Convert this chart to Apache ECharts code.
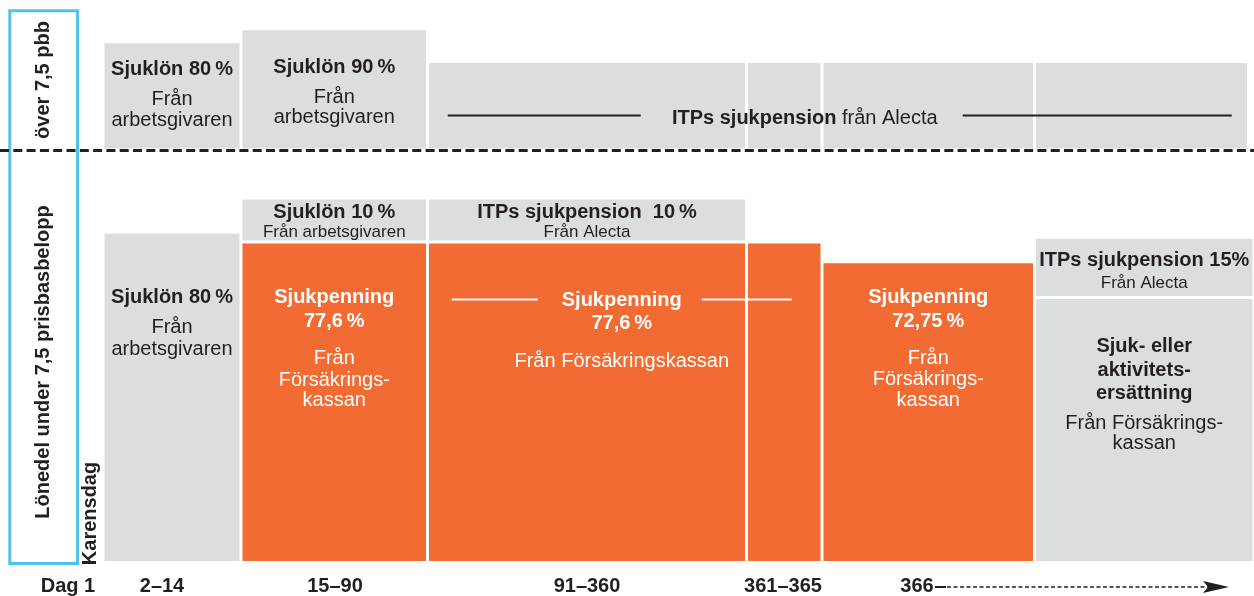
<!DOCTYPE html>
<html>
<head>
<meta charset="utf-8">
<title>Ersättning vid sjukdom</title>
<script src="https://cdn.jsdelivr.net/npm/echarts@6/dist/echarts.min.js"></script>
<style>
  html, body { margin: 0; padding: 0; background: #fff; }
  #chart { width: 1254px; height: 596px; }
</style>
</head>
<body>
<div id="chart"></div>
<script>
// perioder i sjukfallet (x-axelns etiketter)
var periods = ['Dag 1', '2–14', '15–90', '91–360', '361–365', '366'];

// lönedel över 7,5 pbb, ersättning i % per kolumn
var overPct = [80, 90, 65, 65, 65, 65];
// lönedel under 7,5 pbb: grunddel + påbyggnad ovanpå
var underBasePct = [80, 77.6, 77.6, 77.6, 72.75, 64];
var underTopPct = [0, 10, 10, 0, 0, 14];
var underBaseOrange = [0, 1, 1, 1, 1, 0];

// --- layout ---
var FONT = '"Liberation Sans", Arial, sans-serif';
var INK = '#231f20', GRAY = '#dcdddf', ORANGE = '#f26b32', FRAME = '#4ec3e6';
var GAP = 3;
// kolumnkanter i x-axelns enheter (axeln går 0..1254)
var colEdges = [103, 241, 427.5, 746.5, 822, 1034.5, 1254];
var overRightEdge = 1248.5;
var labelX = [68, 162, 335, 587, 783, 917];

var STYLES = {
    b: { fill: INK, fontSize: 20, fontWeight: 'bold' },
    r: { fill: INK, fontSize: 20 },
    s: { fill: INK, fontSize: 17 },
    w: { fill: '#fff', fontSize: 20, fontWeight: 'bold' },
    wr: { fill: '#fff', fontSize: 20 },
    itp: {
        fill: INK, fontSize: 20,
        rich: {
            b: { fontWeight: 'bold', fontSize: 20, fontFamily: FONT, fill: INK },
            r: { fontSize: 20, fontFamily: FONT, fill: INK }
        }
    }
};

function mid(c0, c1) { return (colEdges[c0] + colEdges[c1 + 1]) / 2; }

var overBlocks = overPct.map(function (v, i) {
    var right = i === overPct.length - 1 ? overRightEdge : colEdges[i + 1];
    return [colEdges[i], right, 0, v, 0, 0];
});
var underBlocks = [];
underBasePct.forEach(function (v, i) {
    underBlocks.push([colEdges[i], colEdges[i + 1], 0, v, 0, underBaseOrange[i]]);
    if (underTopPct[i] > 0) {
        underBlocks.push([colEdges[i], colEdges[i + 1], v, v + underTopPct[i], 1, 0]);
    }
});

// texter: [stil, text, px från blockets överkant]
var overLabels = [
    { x: mid(0, 0), top: overPct[0], lift: 0,
      lines: [['b', 'Sjuklön 80\u2009%', 26], ['r', 'Från', 56], ['r', 'arbetsgivaren', 77]] },
    { x: mid(1, 1), top: overPct[1], lift: 0,
      lines: [['b', 'Sjuklön 90\u2009%', 37], ['r', 'Från', 67], ['r', 'arbetsgivaren', 87]] },
    { x: mid(2, 5), top: overPct[2], lift: 0, dx: -36,
      lines: [['itp', '{b|ITPs sjukpension} {r|från Alecta}', 55]],
      rules: [[-357, -164, 52.5, INK], [158, 427, 52.5, INK]] }
];
var underLabels = [
    { x: mid(0, 0), top: underBasePct[0], lift: 0,
      lines: [['b', 'Sjuklön 80\u2009%', 63.5], ['r', 'Från', 93.5], ['r', 'arbetsgivaren', 115.5]] },
    { x: mid(1, 1), top: underBasePct[1] + underTopPct[1], lift: 1,
      lines: [['b', 'Sjuklön 10\u2009%', 13], ['s', 'Från arbetsgivaren', 32.5]] },
    { x: mid(1, 1), top: underBasePct[1], lift: 0,
      lines: [['w', 'Sjukpenning', 54.5], ['w', '77,6\u2009%', 78.5], ['wr', 'Från', 115.5],
              ['wr', 'Försäkrings-', 137], ['wr', 'kassan', 157.5]] },
    { x: mid(2, 2), top: underBasePct[2] + underTopPct[2], lift: 1,
      lines: [['b', 'ITPs sjukpension  10\u2009%', 13], ['s', 'Från Alecta', 33]] },
    { x: mid(2, 3), top: underBasePct[2], lift: 0, dx: -3,
      lines: [['w', 'Sjukpenning', 57], ['w', '77,6\u2009%', 80.5], ['wr', 'Från Försäkringskassan', 118.5]],
      rules: [[-170, -84, 56.2, '#fff'], [80, 170, 56.2, '#fff']] },
    { x: mid(4, 4), top: underBasePct[4], lift: 0,
      lines: [['w', 'Sjukpenning', 34.5], ['w', '72,75\u2009%', 58.5], ['wr', 'Från', 95.5],
              ['wr', 'Försäkrings-', 116.5], ['wr', 'kassan', 137.5]] },
    { x: mid(5, 5), top: underBasePct[5] + underTopPct[5], lift: 1,
      lines: [['b', 'ITPs sjukpension 15%', 22], ['s', 'Från Alecta', 45]] },
    { x: mid(5, 5), top: underBasePct[5], lift: 0,
      lines: [['b', 'Sjuk- eller', 47], ['b', 'aktivitets-', 71], ['b', 'ersättning', 94.3],
              ['r', 'Från Försäkrings-', 124.3], ['r', 'kassan', 144.3]] }
];

function renderBlock(params, api) {
    var p0 = api.coord([api.value(0), api.value(2)]);
    var p1 = api.coord([api.value(1), api.value(3)]);
    var lift = api.value(4) * GAP;
    return {
        type: 'rect',
        shape: {
            x: p0[0] + GAP / 2,
            y: p1[1] - lift,
            width: p1[0] - p0[0] - GAP,
            height: p0[1] - p1[1]
        },
        style: { fill: api.value(5) ? ORANGE : GRAY }
    };
}

function labelRenderer(list) {
    return function (params, api) {
        var item = list[params.dataIndex];
        var p = api.coord([api.value(0), api.value(1)]);
        var cx = p[0] + (item.dx || 0);
        var top = p[1] - api.value(2) * GAP;
        var children = item.lines.map(function (ln) {
            var st = Object.assign({
                text: ln[1], fontFamily: FONT,
                align: 'center', verticalAlign: 'middle',
                textAlign: 'center', textVerticalAlign: 'middle'
            }, STYLES[ln[0]]);
            return { type: 'text', x: cx, y: top + ln[2], style: st };
        });
        (item.rules || []).forEach(function (r) {
            children.push({
                type: 'line',
                shape: { x1: cx + r[0], y1: top + r[2], x2: cx + r[1], y2: top + r[2] },
                style: { stroke: r[3], lineWidth: 2 }
            });
        });
        return { type: 'group', children: children };
    };
}

var chart = echarts.init(document.getElementById('chart'));
var option = {
    backgroundColor: '#fff',
    animation: false,
    grid: [
        { left: 0, right: 0, top: 17, height: 131.5 },
        { left: 0, right: 0, top: 151.75, height: 413.75 }
    ],
    xAxis: [
        { gridIndex: 0, type: 'value', min: 0, max: 1254, show: false },
        {
            gridIndex: 1, type: 'value', min: 0, max: 1254,
            axisLine: { show: false }, axisTick: { show: false }, splitLine: { show: false },
            axisLabel: {
                customValues: labelX,
                margin: 15,
                color: INK, fontFamily: FONT, fontSize: 20, fontWeight: 'bold',
                formatter: function (v) {
                    var i = labelX.indexOf(v);
                    return i >= 0 ? periods[i] : '';
                }
            }
        }
    ],
    yAxis: [
        { gridIndex: 0, type: 'value', min: 0, max: 100, show: false },
        { gridIndex: 1, type: 'value', min: 0, max: 100, show: false }
    ],
    series: [
        { type: 'custom', xAxisIndex: 0, yAxisIndex: 0, silent: true,
          renderItem: renderBlock, data: overBlocks },
        { type: 'custom', xAxisIndex: 1, yAxisIndex: 1, silent: true,
          renderItem: renderBlock, data: underBlocks },
        { type: 'custom', xAxisIndex: 0, yAxisIndex: 0, silent: true, z: 5,
          renderItem: labelRenderer(overLabels),
          data: overLabels.map(function (l) { return [l.x, l.top, l.lift]; }) },
        { type: 'custom', xAxisIndex: 1, yAxisIndex: 1, silent: true, z: 5,
          renderItem: labelRenderer(underLabels),
          data: underLabels.map(function (l) { return [l.x, l.top, l.lift]; }) }
    ],
    graphic: [
        { type: 'rect', shape: { x: 9.8, y: 10.8, width: 67.7, height: 552.7 },
          style: { fill: 'none', stroke: FRAME, lineWidth: 3 } },
        { type: 'line', shape: { x1: 0, y1: 150.5, x2: 1254, y2: 150.5 },
          style: { stroke: INK, lineWidth: 3, lineDash: [9, 4.3] } },
        { type: 'text', x: 43, y: 80, rotation: Math.PI / 2,
          style: { text: 'över 7,5 pbb', fill: INK, fontFamily: FONT, fontSize: 20, fontWeight: 'bold',
                   align: 'center', verticalAlign: 'middle' } },
        { type: 'text', x: 43, y: 362, rotation: Math.PI / 2,
          style: { text: 'Lönedel under 7,5 prisbasbelopp', fill: INK, fontFamily: FONT, fontSize: 20,
                   fontWeight: 'bold', align: 'center', verticalAlign: 'middle' } },
        { type: 'text', x: 90, y: 513.5, rotation: Math.PI / 2,
          style: { text: 'Karensdag', fill: INK, fontFamily: FONT, fontSize: 20, fontWeight: 'bold',
                   align: 'center', verticalAlign: 'middle' } },
        { type: 'line', shape: { x1: 935, y1: 587, x2: 946, y2: 587 },
          style: { stroke: INK, lineWidth: 2 } },
        { type: 'line', shape: { x1: 947, y1: 587, x2: 1210, y2: 587 },
          style: { stroke: INK, lineWidth: 1.5, lineDash: [4, 2.5] } },
        { type: 'polygon', shape: { points: [[1203, 581], [1229, 587], [1203, 593], [1208, 587]] },
          style: { fill: INK } }
    ]
};
chart.setOption(option);
</script>
</body>
</html>
